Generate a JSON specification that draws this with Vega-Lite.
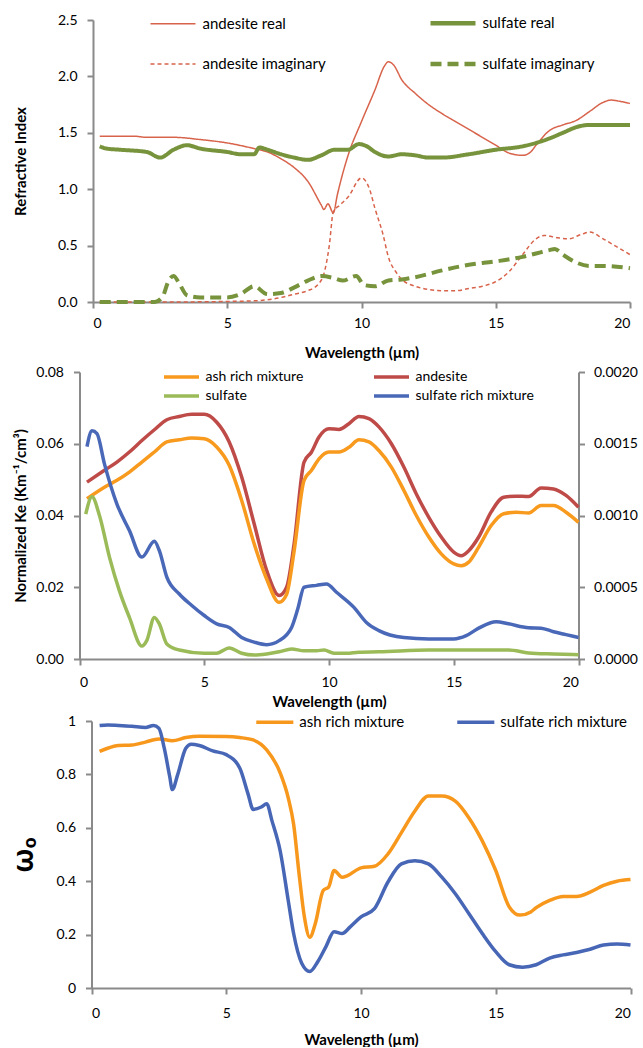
{
  "$schema": "https://vega.github.io/schema/vega-lite/v6.json",
  "padding": {"left": 10, "top": 13, "right": 0, "bottom": 0},
  "columns": 1,
  "align": "none",
  "spacing": 5,
  "resolve": {"scale": {"color": "independent", "strokeDash": "independent", "x": "independent", "y": "independent"}, "legend": {"color": "independent"}},
  "config": {
    "font": "Lato",
    "view": {"stroke": null},
    "axis": {
      "grid": false,
      "domainColor": "#8a8a8a", "domainWidth": 2,
      "tickColor": "#8a8a8a", "tickWidth": 2, "tickSize": 6,
      "labelFont": "Lato", "labelFontSize": 14, "labelColor": "#000000",
      "titleFont": "Lato", "titleFontSize": 15, "titleFontWeight": "bold", "titleColor": "#000000"
    },
    "legend": {"labelFont": "Lato", "labelColor": "#000000", "title": null, "symbolType": "M-5,0H5"}
  },
  "datasets": {
    "p1": [
      {"s":"andesite real","x":0.25,"y":1.47},{"s":"andesite real","x":1.5,"y":1.47},{"s":"andesite real","x":2,"y":1.46},{"s":"andesite real","x":3,"y":1.46},{"s":"andesite real","x":4,"y":1.44},{"s":"andesite real","x":5,"y":1.41},{"s":"andesite real","x":6,"y":1.36},{"s":"andesite real","x":6.5,"y":1.33},{"s":"andesite real","x":7,"y":1.27},{"s":"andesite real","x":7.5,"y":1.19},{"s":"andesite real","x":8,"y":1.07},{"s":"andesite real","x":8.5,"y":0.86},{"s":"andesite real","x":8.6,"y":0.82},{"s":"andesite real","x":8.75,"y":0.87},{"s":"andesite real","x":8.95,"y":0.79},{"s":"andesite real","x":9.1,"y":0.95},{"s":"andesite real","x":9.5,"y":1.3},{"s":"andesite real","x":10,"y":1.6},{"s":"andesite real","x":10.5,"y":1.88},{"s":"andesite real","x":10.85,"y":2.09},{"s":"andesite real","x":11,"y":2.13},{"s":"andesite real","x":11.2,"y":2.1},{"s":"andesite real","x":11.5,"y":1.97},{"s":"andesite real","x":12,"y":1.85},{"s":"andesite real","x":12.5,"y":1.75},{"s":"andesite real","x":13,"y":1.67},{"s":"andesite real","x":13.5,"y":1.6},{"s":"andesite real","x":14,"y":1.53},{"s":"andesite real","x":14.5,"y":1.46},{"s":"andesite real","x":15,"y":1.39},{"s":"andesite real","x":15.5,"y":1.32},{"s":"andesite real","x":16,"y":1.3},{"s":"andesite real","x":16.3,"y":1.33},{"s":"andesite real","x":16.5,"y":1.39},{"s":"andesite real","x":17,"y":1.52},{"s":"andesite real","x":17.5,"y":1.57},{"s":"andesite real","x":18,"y":1.61},{"s":"andesite real","x":18.5,"y":1.69},{"s":"andesite real","x":19,"y":1.77},{"s":"andesite real","x":19.3,"y":1.79},{"s":"andesite real","x":19.6,"y":1.78},{"s":"andesite real","x":20,"y":1.76},
      {"s":"andesite imaginary","x":0.25,"y":0.0},{"s":"andesite imaginary","x":3,"y":0.0},{"s":"andesite imaginary","x":5,"y":0.005},{"s":"andesite imaginary","x":6,"y":0.01},{"s":"andesite imaginary","x":6.5,"y":0.02},{"s":"andesite imaginary","x":7,"y":0.04},{"s":"andesite imaginary","x":7.5,"y":0.07},{"s":"andesite imaginary","x":8,"y":0.1},{"s":"andesite imaginary","x":8.4,"y":0.16},{"s":"andesite imaginary","x":8.6,"y":0.25},{"s":"andesite imaginary","x":8.8,"y":0.5},{"s":"andesite imaginary","x":8.95,"y":0.8},{"s":"andesite imaginary","x":9.2,"y":0.86},{"s":"andesite imaginary","x":9.5,"y":0.93},{"s":"andesite imaginary","x":10,"y":1.1},{"s":"andesite imaginary","x":10.3,"y":1.0},{"s":"andesite imaginary","x":10.5,"y":0.83},{"s":"andesite imaginary","x":10.8,"y":0.6},{"s":"andesite imaginary","x":11,"y":0.4},{"s":"andesite imaginary","x":11.3,"y":0.26},{"s":"andesite imaginary","x":11.5,"y":0.2},{"s":"andesite imaginary","x":12,"y":0.14},{"s":"andesite imaginary","x":12.5,"y":0.11},{"s":"andesite imaginary","x":13,"y":0.1},{"s":"andesite imaginary","x":13.5,"y":0.1},{"s":"andesite imaginary","x":14,"y":0.12},{"s":"andesite imaginary","x":14.5,"y":0.14},{"s":"andesite imaginary","x":15,"y":0.18},{"s":"andesite imaginary","x":15.5,"y":0.27},{"s":"andesite imaginary","x":16,"y":0.42},{"s":"andesite imaginary","x":16.5,"y":0.56},{"s":"andesite imaginary","x":16.8,"y":0.59},{"s":"andesite imaginary","x":17.3,"y":0.57},{"s":"andesite imaginary","x":17.7,"y":0.56},{"s":"andesite imaginary","x":18.2,"y":0.6},{"s":"andesite imaginary","x":18.5,"y":0.62},{"s":"andesite imaginary","x":19,"y":0.56},{"s":"andesite imaginary","x":19.5,"y":0.49},{"s":"andesite imaginary","x":20,"y":0.42},
      {"s":"sulfate real","x":0.25,"y":1.38},{"s":"sulfate real","x":0.5,"y":1.36},{"s":"sulfate real","x":1,"y":1.35},{"s":"sulfate real","x":2,"y":1.33},{"s":"sulfate real","x":2.5,"y":1.28},{"s":"sulfate real","x":3,"y":1.35},{"s":"sulfate real","x":3.5,"y":1.39},{"s":"sulfate real","x":4,"y":1.36},{"s":"sulfate real","x":5,"y":1.33},{"s":"sulfate real","x":5.5,"y":1.31},{"s":"sulfate real","x":6,"y":1.31},{"s":"sulfate real","x":6.2,"y":1.37},{"s":"sulfate real","x":6.5,"y":1.35},{"s":"sulfate real","x":7,"y":1.31},{"s":"sulfate real","x":7.5,"y":1.28},{"s":"sulfate real","x":8,"y":1.26},{"s":"sulfate real","x":8.5,"y":1.3},{"s":"sulfate real","x":9,"y":1.35},{"s":"sulfate real","x":9.5,"y":1.35},{"s":"sulfate real","x":9.9,"y":1.4},{"s":"sulfate real","x":10.2,"y":1.38},{"s":"sulfate real","x":10.5,"y":1.33},{"s":"sulfate real","x":11,"y":1.29},{"s":"sulfate real","x":11.5,"y":1.31},{"s":"sulfate real","x":12,"y":1.3},{"s":"sulfate real","x":12.5,"y":1.28},{"s":"sulfate real","x":13,"y":1.28},{"s":"sulfate real","x":14,"y":1.31},{"s":"sulfate real","x":15,"y":1.35},{"s":"sulfate real","x":16,"y":1.38},{"s":"sulfate real","x":16.5,"y":1.41},{"s":"sulfate real","x":17,"y":1.45},{"s":"sulfate real","x":17.5,"y":1.5},{"s":"sulfate real","x":18,"y":1.55},{"s":"sulfate real","x":18.5,"y":1.57},{"s":"sulfate real","x":19,"y":1.57},{"s":"sulfate real","x":20,"y":1.57},
      {"s":"sulfate imaginary","x":0.25,"y":0.0},{"s":"sulfate imaginary","x":2.3,"y":0.0},{"s":"sulfate imaginary","x":2.6,"y":0.05},{"s":"sulfate imaginary","x":2.8,"y":0.18},{"s":"sulfate imaginary","x":3,"y":0.23},{"s":"sulfate imaginary","x":3.2,"y":0.17},{"s":"sulfate imaginary","x":3.5,"y":0.06},{"s":"sulfate imaginary","x":4,"y":0.04},{"s":"sulfate imaginary","x":5,"y":0.04},{"s":"sulfate imaginary","x":5.5,"y":0.07},{"s":"sulfate imaginary","x":6,"y":0.14},{"s":"sulfate imaginary","x":6.5,"y":0.07},{"s":"sulfate imaginary","x":7,"y":0.08},{"s":"sulfate imaginary","x":7.5,"y":0.13},{"s":"sulfate imaginary","x":8,"y":0.19},{"s":"sulfate imaginary","x":8.5,"y":0.23},{"s":"sulfate imaginary","x":9,"y":0.21},{"s":"sulfate imaginary","x":9.3,"y":0.19},{"s":"sulfate imaginary","x":9.8,"y":0.23},{"s":"sulfate imaginary","x":10.1,"y":0.15},{"s":"sulfate imaginary","x":10.5,"y":0.14},{"s":"sulfate imaginary","x":11,"y":0.19},{"s":"sulfate imaginary","x":11.5,"y":0.2},{"s":"sulfate imaginary","x":12,"y":0.22},{"s":"sulfate imaginary","x":13,"y":0.28},{"s":"sulfate imaginary","x":14,"y":0.33},{"s":"sulfate imaginary","x":15,"y":0.36},{"s":"sulfate imaginary","x":16,"y":0.4},{"s":"sulfate imaginary","x":16.5,"y":0.43},{"s":"sulfate imaginary","x":17,"y":0.46},{"s":"sulfate imaginary","x":17.2,"y":0.47},{"s":"sulfate imaginary","x":17.5,"y":0.42},{"s":"sulfate imaginary","x":18,"y":0.35},{"s":"sulfate imaginary","x":18.5,"y":0.32},{"s":"sulfate imaginary","x":19,"y":0.32},{"s":"sulfate imaginary","x":20,"y":0.3}
    ],
    "p2a": [
      {"s":"andesite","x":0.3,"y":0.0493},{"s":"andesite","x":1,"y":0.0526},{"s":"andesite","x":1.5,"y":0.0549},{"s":"andesite","x":2,"y":0.0577},{"s":"andesite","x":2.5,"y":0.0609},{"s":"andesite","x":3,"y":0.0639},{"s":"andesite","x":3.5,"y":0.0667},{"s":"andesite","x":4,"y":0.0676},{"s":"andesite","x":4.5,"y":0.0682},{"s":"andesite","x":5,"y":0.0682},{"s":"andesite","x":5.5,"y":0.066},{"s":"andesite","x":6,"y":0.0605},{"s":"andesite","x":6.5,"y":0.0507},{"s":"andesite","x":7,"y":0.0377},{"s":"andesite","x":7.5,"y":0.0247},{"s":"andesite","x":8,"y":0.0177},{"s":"andesite","x":8.3,"y":0.02},{"s":"andesite","x":8.6,"y":0.032},{"s":"andesite","x":9,"y":0.0549},{"s":"andesite","x":9.3,"y":0.0577},{"s":"andesite","x":9.6,"y":0.0619},{"s":"andesite","x":10,"y":0.0642},{"s":"andesite","x":10.4,"y":0.064},{"s":"andesite","x":10.8,"y":0.0656},{"s":"andesite","x":11.2,"y":0.0676},{"s":"andesite","x":11.6,"y":0.067},{"s":"andesite","x":12,"y":0.0647},{"s":"andesite","x":12.5,"y":0.06},{"s":"andesite","x":13,"y":0.0535},{"s":"andesite","x":13.5,"y":0.046},{"s":"andesite","x":14,"y":0.0395},{"s":"andesite","x":14.5,"y":0.034},{"s":"andesite","x":15,"y":0.0298},{"s":"andesite","x":15.3,"y":0.0288},{"s":"andesite","x":15.6,"y":0.0302},{"s":"andesite","x":16,"y":0.034},{"s":"andesite","x":16.5,"y":0.041},{"s":"andesite","x":17,"y":0.0451},{"s":"andesite","x":17.5,"y":0.0454},{"s":"andesite","x":18,"y":0.0453},{"s":"andesite","x":18.5,"y":0.0477},{"s":"andesite","x":19,"y":0.0474},{"s":"andesite","x":19.5,"y":0.0456},{"s":"andesite","x":20,"y":0.0423},
      {"s":"ash rich mixture","x":0.3,"y":0.0447},{"s":"ash rich mixture","x":1,"y":0.0479},{"s":"ash rich mixture","x":1.5,"y":0.0498},{"s":"ash rich mixture","x":2,"y":0.0521},{"s":"ash rich mixture","x":2.5,"y":0.0549},{"s":"ash rich mixture","x":3,"y":0.0577},{"s":"ash rich mixture","x":3.5,"y":0.0605},{"s":"ash rich mixture","x":4,"y":0.0611},{"s":"ash rich mixture","x":4.5,"y":0.0616},{"s":"ash rich mixture","x":5,"y":0.0614},{"s":"ash rich mixture","x":5.5,"y":0.0591},{"s":"ash rich mixture","x":6,"y":0.054},{"s":"ash rich mixture","x":6.5,"y":0.0442},{"s":"ash rich mixture","x":7,"y":0.0321},{"s":"ash rich mixture","x":7.5,"y":0.0223},{"s":"ash rich mixture","x":8,"y":0.0158},{"s":"ash rich mixture","x":8.3,"y":0.018},{"s":"ash rich mixture","x":8.6,"y":0.03},{"s":"ash rich mixture","x":9,"y":0.0498},{"s":"ash rich mixture","x":9.3,"y":0.0526},{"s":"ash rich mixture","x":9.6,"y":0.0558},{"s":"ash rich mixture","x":10,"y":0.0577},{"s":"ash rich mixture","x":10.4,"y":0.0577},{"s":"ash rich mixture","x":10.8,"y":0.059},{"s":"ash rich mixture","x":11.2,"y":0.0611},{"s":"ash rich mixture","x":11.6,"y":0.0605},{"s":"ash rich mixture","x":12,"y":0.0581},{"s":"ash rich mixture","x":12.5,"y":0.0535},{"s":"ash rich mixture","x":13,"y":0.047},{"s":"ash rich mixture","x":13.5,"y":0.04},{"s":"ash rich mixture","x":14,"y":0.034},{"s":"ash rich mixture","x":14.5,"y":0.0293},{"s":"ash rich mixture","x":15,"y":0.0265},{"s":"ash rich mixture","x":15.3,"y":0.026},{"s":"ash rich mixture","x":15.6,"y":0.027},{"s":"ash rich mixture","x":16,"y":0.0312},{"s":"ash rich mixture","x":16.5,"y":0.0372},{"s":"ash rich mixture","x":17,"y":0.0405},{"s":"ash rich mixture","x":17.5,"y":0.0409},{"s":"ash rich mixture","x":18,"y":0.0407},{"s":"ash rich mixture","x":18.5,"y":0.0428},{"s":"ash rich mixture","x":19,"y":0.0428},{"s":"ash rich mixture","x":19.5,"y":0.0409},{"s":"ash rich mixture","x":20,"y":0.0381}
    ],
    "p2b": [
      {"s":"sulfate","x":0.25,"y":0.00101},{"s":"sulfate","x":0.5,"y":0.00113},{"s":"sulfate","x":0.8,"y":0.001},{"s":"sulfate","x":1.2,"y":0.00071},{"s":"sulfate","x":1.6,"y":0.000475},{"s":"sulfate","x":2,"y":0.00029},{"s":"sulfate","x":2.5,"y":0.00009},{"s":"sulfate","x":2.7,"y":0.00013},{"s":"sulfate","x":3,"y":0.00029},{"s":"sulfate","x":3.2,"y":0.000245},{"s":"sulfate","x":3.5,"y":0.000105},{"s":"sulfate","x":4,"y":0.0000625},{"s":"sulfate","x":5,"y":0.00004},{"s":"sulfate","x":5.5,"y":0.00004},{"s":"sulfate","x":6,"y":0.0000775},{"s":"sulfate","x":6.5,"y":0.00004},{"s":"sulfate","x":7,"y":0.0000275},{"s":"sulfate","x":7.5,"y":0.000035},{"s":"sulfate","x":8,"y":0.00005},{"s":"sulfate","x":8.5,"y":0.00007},{"s":"sulfate","x":9,"y":0.0000575},{"s":"sulfate","x":9.5,"y":0.0000575},{"s":"sulfate","x":9.8,"y":0.0000625},{"s":"sulfate","x":10.2,"y":0.00004},{"s":"sulfate","x":10.7,"y":0.00004},{"s":"sulfate","x":11.2,"y":0.0000475},{"s":"sulfate","x":12,"y":0.00005},{"s":"sulfate","x":14,"y":0.0000625},{"s":"sulfate","x":16,"y":0.0000625},{"s":"sulfate","x":17.2,"y":0.0000625},{"s":"sulfate","x":18,"y":0.0000425},{"s":"sulfate","x":19,"y":0.000035},{"s":"sulfate","x":20,"y":0.00003},
      {"s":"sulfate rich mixture","x":0.3,"y":0.00148},{"s":"sulfate rich mixture","x":0.5,"y":0.00159},{"s":"sulfate rich mixture","x":0.7,"y":0.00157},{"s":"sulfate rich mixture","x":1,"y":0.00136},{"s":"sulfate rich mixture","x":1.5,"y":0.00108},{"s":"sulfate rich mixture","x":2,"y":0.000895},{"s":"sulfate rich mixture","x":2.5,"y":0.00071},{"s":"sulfate rich mixture","x":3,"y":0.00082},{"s":"sulfate rich mixture","x":3.2,"y":0.000755},{"s":"sulfate rich mixture","x":3.5,"y":0.00057},{"s":"sulfate rich mixture","x":4,"y":0.000453},{"s":"sulfate rich mixture","x":4.5,"y":0.000373},{"s":"sulfate rich mixture","x":5,"y":0.000303},{"s":"sulfate rich mixture","x":5.5,"y":0.000245},{"s":"sulfate rich mixture","x":6,"y":0.00022},{"s":"sulfate rich mixture","x":6.5,"y":0.00015},{"s":"sulfate rich mixture","x":7,"y":0.000118},{"s":"sulfate rich mixture","x":7.5,"y":0.0001},{"s":"sulfate rich mixture","x":8,"y":0.000128},{"s":"sulfate rich mixture","x":8.5,"y":0.00022},{"s":"sulfate rich mixture","x":8.75,"y":0.00035},{"s":"sulfate rich mixture","x":9,"y":0.0005},{"s":"sulfate rich mixture","x":9.5,"y":0.000513},{"s":"sulfate rich mixture","x":9.9,"y":0.000523},{"s":"sulfate rich mixture","x":10.3,"y":0.000465},{"s":"sulfate rich mixture","x":11,"y":0.00036},{"s":"sulfate rich mixture","x":11.5,"y":0.000255},{"s":"sulfate rich mixture","x":12,"y":0.000198},{"s":"sulfate rich mixture","x":13,"y":0.00015},{"s":"sulfate rich mixture","x":14,"y":0.00014},{"s":"sulfate rich mixture","x":15,"y":0.00014},{"s":"sulfate rich mixture","x":15.5,"y":0.000163},{"s":"sulfate rich mixture","x":16,"y":0.000215},{"s":"sulfate rich mixture","x":16.7,"y":0.00026},{"s":"sulfate rich mixture","x":17.2,"y":0.000245},{"s":"sulfate rich mixture","x":18,"y":0.000218},{"s":"sulfate rich mixture","x":18.5,"y":0.000215},{"s":"sulfate rich mixture","x":19,"y":0.00019},{"s":"sulfate rich mixture","x":19.5,"y":0.00017},{"s":"sulfate rich mixture","x":20,"y":0.00015}
    ],
    "p3": [
      {"s":"ash rich mixture","x":0.3,"y":0.886},{"s":"ash rich mixture","x":0.6,"y":0.898},{"s":"ash rich mixture","x":1,"y":0.908},{"s":"ash rich mixture","x":1.5,"y":0.91},{"s":"ash rich mixture","x":2,"y":0.921},{"s":"ash rich mixture","x":2.5,"y":0.933},{"s":"ash rich mixture","x":3,"y":0.926},{"s":"ash rich mixture","x":3.5,"y":0.938},{"s":"ash rich mixture","x":4,"y":0.943},{"s":"ash rich mixture","x":5,"y":0.942},{"s":"ash rich mixture","x":5.5,"y":0.938},{"s":"ash rich mixture","x":6,"y":0.929},{"s":"ash rich mixture","x":6.5,"y":0.892},{"s":"ash rich mixture","x":7,"y":0.806},{"s":"ash rich mixture","x":7.3,"y":0.712},{"s":"ash rich mixture","x":7.5,"y":0.613},{"s":"ash rich mixture","x":7.7,"y":0.43},{"s":"ash rich mixture","x":7.9,"y":0.266},{"s":"ash rich mixture","x":8.1,"y":0.19},{"s":"ash rich mixture","x":8.3,"y":0.24},{"s":"ash rich mixture","x":8.6,"y":0.366},{"s":"ash rich mixture","x":8.8,"y":0.378},{"s":"ash rich mixture","x":9,"y":0.44},{"s":"ash rich mixture","x":9.3,"y":0.415},{"s":"ash rich mixture","x":9.5,"y":0.421},{"s":"ash rich mixture","x":10,"y":0.45},{"s":"ash rich mixture","x":10.5,"y":0.456},{"s":"ash rich mixture","x":11,"y":0.502},{"s":"ash rich mixture","x":11.5,"y":0.582},{"s":"ash rich mixture","x":12,"y":0.663},{"s":"ash rich mixture","x":12.5,"y":0.719},{"s":"ash rich mixture","x":13,"y":0.719},{"s":"ash rich mixture","x":13.5,"y":0.7},{"s":"ash rich mixture","x":14,"y":0.638},{"s":"ash rich mixture","x":14.5,"y":0.551},{"s":"ash rich mixture","x":15,"y":0.44},{"s":"ash rich mixture","x":15.5,"y":0.304},{"s":"ash rich mixture","x":15.9,"y":0.273},{"s":"ash rich mixture","x":16.3,"y":0.285},{"s":"ash rich mixture","x":16.5,"y":0.301},{"s":"ash rich mixture","x":17,"y":0.328},{"s":"ash rich mixture","x":17.5,"y":0.343},{"s":"ash rich mixture","x":18,"y":0.343},{"s":"ash rich mixture","x":18.5,"y":0.359},{"s":"ash rich mixture","x":19,"y":0.384},{"s":"ash rich mixture","x":19.5,"y":0.4},{"s":"ash rich mixture","x":20,"y":0.406},
      {"s":"sulfate rich mixture","x":0.3,"y":0.983},{"s":"sulfate rich mixture","x":0.6,"y":0.985},{"s":"sulfate rich mixture","x":1,"y":0.983},{"s":"sulfate rich mixture","x":1.5,"y":0.98},{"s":"sulfate rich mixture","x":2,"y":0.976},{"s":"sulfate rich mixture","x":2.3,"y":0.983},{"s":"sulfate rich mixture","x":2.5,"y":0.973},{"s":"sulfate rich mixture","x":2.7,"y":0.898},{"s":"sulfate rich mixture","x":2.9,"y":0.793},{"s":"sulfate rich mixture","x":3,"y":0.743},{"s":"sulfate rich mixture","x":3.2,"y":0.8},{"s":"sulfate rich mixture","x":3.5,"y":0.898},{"s":"sulfate rich mixture","x":3.7,"y":0.913},{"s":"sulfate rich mixture","x":4,"y":0.908},{"s":"sulfate rich mixture","x":4.5,"y":0.888},{"s":"sulfate rich mixture","x":5,"y":0.874},{"s":"sulfate rich mixture","x":5.5,"y":0.824},{"s":"sulfate rich mixture","x":5.8,"y":0.73},{"s":"sulfate rich mixture","x":6,"y":0.669},{"s":"sulfate rich mixture","x":6.3,"y":0.678},{"s":"sulfate rich mixture","x":6.5,"y":0.69},{"s":"sulfate rich mixture","x":6.7,"y":0.625},{"s":"sulfate rich mixture","x":7,"y":0.514},{"s":"sulfate rich mixture","x":7.3,"y":0.328},{"s":"sulfate rich mixture","x":7.5,"y":0.204},{"s":"sulfate rich mixture","x":7.8,"y":0.093},{"s":"sulfate rich mixture","x":8.1,"y":0.062},{"s":"sulfate rich mixture","x":8.4,"y":0.099},{"s":"sulfate rich mixture","x":8.7,"y":0.155},{"s":"sulfate rich mixture","x":9,"y":0.211},{"s":"sulfate rich mixture","x":9.3,"y":0.204},{"s":"sulfate rich mixture","x":9.6,"y":0.229},{"s":"sulfate rich mixture","x":10,"y":0.266},{"s":"sulfate rich mixture","x":10.5,"y":0.297},{"s":"sulfate rich mixture","x":11,"y":0.397},{"s":"sulfate rich mixture","x":11.5,"y":0.465},{"s":"sulfate rich mixture","x":12,"y":0.477},{"s":"sulfate rich mixture","x":12.5,"y":0.465},{"s":"sulfate rich mixture","x":13,"y":0.415},{"s":"sulfate rich mixture","x":13.5,"y":0.353},{"s":"sulfate rich mixture","x":14,"y":0.279},{"s":"sulfate rich mixture","x":14.5,"y":0.204},{"s":"sulfate rich mixture","x":15,"y":0.136},{"s":"sulfate rich mixture","x":15.5,"y":0.087},{"s":"sulfate rich mixture","x":16,"y":0.078},{"s":"sulfate rich mixture","x":16.5,"y":0.087},{"s":"sulfate rich mixture","x":17,"y":0.112},{"s":"sulfate rich mixture","x":17.5,"y":0.124},{"s":"sulfate rich mixture","x":18,"y":0.133},{"s":"sulfate rich mixture","x":18.5,"y":0.145},{"s":"sulfate rich mixture","x":19,"y":0.161},{"s":"sulfate rich mixture","x":19.5,"y":0.165},{"s":"sulfate rich mixture","x":20,"y":0.161}
    ]
  },
  "concat": [
    {
      "width": 537, "height": 282,
      "data": {"name": "p1"},
      "mark": {"type": "line", "interpolate": "monotone"},
      "encoding": {
        "x": {"field": "x", "type": "quantitative", "scale": {"domain": [0, 20], "nice": false},
              "axis": {"title": "Wavelength (µm)", "values": [0, 5, 10, 15, 20], "format": "d", "labelPadding": 8, "titlePadding": 15}},
        "y": {"field": "y", "type": "quantitative", "scale": {"domain": [0, 2.5], "nice": false},
              "axis": {"title": "Refractive Index", "values": [0, 0.5, 1, 1.5, 2, 2.5], "format": ".1f", "labelPadding": 10,
                       "titleX": -64.5, "titleAngle": -90, "titleBaseline": "bottom", "titleAlign": "center"}},
        "color": {"field": "s", "type": "nominal",
                  "scale": {"domain": ["andesite real", "andesite imaginary", "sulfate real", "sulfate imaginary"],
                            "range": ["#d8634b", "#d8634b", "#77933c", "#77933c"]},
                  "legend": {"orient": "none", "legendX": 72.5, "legendY": -4.5, "columns": 2, "columnPadding": 95, "rowPadding": 22,
                             "symbolSize": 81, "labelOffset": 22, "labelFontSize": 15,
                             "encode": {"symbols": {"update": {
                               "strokeWidth": {"signal": "indexof(['sulfate real','sulfate imaginary'], datum.value) >= 0 ? 4.5 : 1.5"},
                               "strokeDash": {"signal": "datum.value == 'andesite imaginary' ? [4,3] : datum.value == 'sulfate imaginary' ? [11,6] : [1,0]"}}}}}},
        "strokeDash": {"field": "s", "type": "nominal",
                       "scale": {"domain": ["andesite real", "andesite imaginary", "sulfate real", "sulfate imaginary"],
                                 "range": [[1, 0], [4, 3], [1, 0], [11, 6]]}, "legend": null},
        "strokeWidth": {"condition": {"test": "datum.s == 'sulfate real' || datum.s == 'sulfate imaginary'", "value": 4}, "value": 1.5}
      }
    },
    {
      "width": 485.5, "height": 287,
      "layer": [
        {
          "data": {"name": "p2a"},
          "mark": {"type": "line", "interpolate": "monotone", "strokeWidth": 3.5},
          "encoding": {
            "x": {"field": "x", "type": "quantitative", "scale": {"domain": [0, 20], "nice": false, "range": [-13.5, 485.5]},
                  "axis": {"title": "Wavelength (µm)", "values": [0, 5, 10, 15, 20], "format": "d", "labelPadding": 10, "titlePadding": 5}},
            "y": {"field": "y", "type": "quantitative", "scale": {"domain": [0, 0.08], "nice": false},
                  "axis": {"title": "Normalized Ke (Km⁻¹/cm³)", "values": [0, 0.02, 0.04, 0.06, 0.08], "format": ".2f", "labelPadding": 10, "offset": 13.5,
                           "titleX": -51, "titleAngle": -90, "titleBaseline": "bottom", "titleAlign": "center"}},
            "color": {"field": "s", "type": "nominal",
                      "scale": {"domain": ["ash rich mixture", "sulfate", "andesite", "sulfate rich mixture"],
                                "range": ["#f79a1e", "#9bbb59", "#be4b48", "#4a68b8"]},
                      "legend": {"orient": "none", "legendX": 81.5, "legendY": -2, "columns": 2, "columnPadding": 63, "rowPadding": 5,
                                 "symbolSize": 49, "symbolStrokeWidth": 3.5, "labelOffset": 17, "labelFontSize": 14}}
          }
        },
        {
          "data": {"name": "p2b"},
          "mark": {"type": "line", "interpolate": "monotone", "strokeWidth": 3.5},
          "encoding": {
            "x": {"field": "x", "type": "quantitative", "scale": {"domain": [0, 20], "nice": false, "range": [-13.5, 485.5]}},
            "y": {"field": "y", "type": "quantitative", "scale": {"domain": [0, 0.002], "nice": false},
                  "axis": {"title": null, "orient": "right", "values": [0, 0.0005, 0.001, 0.0015, 0.002], "format": ".4f", "labelPadding": 9}},
            "color": {"field": "s", "type": "nominal",
                      "scale": {"domain": ["ash rich mixture", "sulfate", "andesite", "sulfate rich mixture"],
                                "range": ["#f79a1e", "#9bbb59", "#be4b48", "#4a68b8"]},
                      "legend": {"orient": "none", "legendX": 81.5, "legendY": -2, "columns": 2, "columnPadding": 63, "rowPadding": 5,
                                 "symbolSize": 49, "symbolStrokeWidth": 3.5, "labelOffset": 17, "labelFontSize": 14}}
          }
        }
      ],
      "resolve": {"scale": {"y": "independent"}}
    },
    {
      "width": 537.5, "height": 267,
      "data": {"name": "p3"},
      "mark": {"type": "line", "interpolate": "monotone", "strokeWidth": 3.5},
      "encoding": {
        "x": {"field": "x", "type": "quantitative", "scale": {"domain": [0, 20], "nice": false, "range": [-1.5, 537.5]},
              "axis": {"title": "Wavelength (µm)", "values": [0, 5, 10, 15, 20], "format": "d", "labelPadding": 12, "titlePadding": 12}},
        "y": {"field": "y", "type": "quantitative", "scale": {"domain": [0, 1], "nice": false},
              "axis": {"title": "ωₒ", "values": [0, 0.2, 0.4, 0.6, 0.8, 1], "format": ".1~f", "labelPadding": 10, "offset": 1.5,
                       "titleFont": "Noto Sans", "titleFontSize": 28,
                       "titleX": -53, "titleAngle": -90, "titleBaseline": "bottom", "titleAlign": "center"}},
        "color": {"field": "s", "type": "nominal",
                  "scale": {"domain": ["ash rich mixture", "sulfate rich mixture"], "range": ["#f7981d", "#4766b5"]},
                  "legend": {"orient": "none", "legendX": 174.3, "legendY": -6.5, "columns": 2, "columnPadding": 45,
                             "symbolSize": 55, "symbolStrokeWidth": 3.5, "labelOffset": 17, "labelFontSize": 15}}
      }
    }
  ]
}
